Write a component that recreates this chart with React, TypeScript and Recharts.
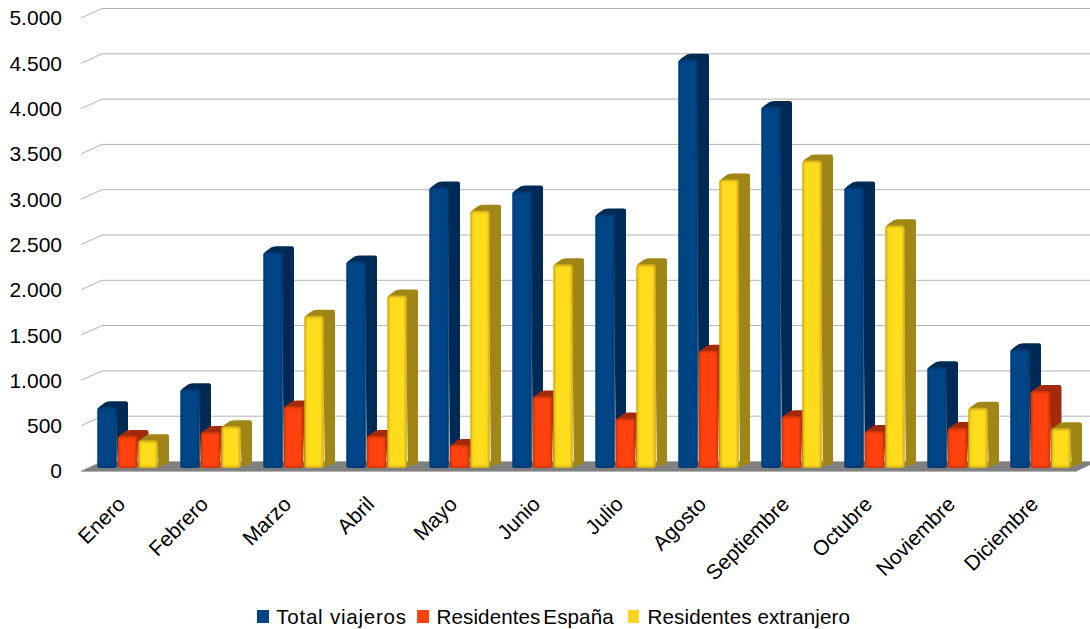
import { BarChart, Bar, XAxis, YAxis, CartesianGrid, Legend } from 'recharts'

const MESES = ['Enero', 'Febrero', 'Marzo', 'Abril', 'Mayo', 'Junio', 'Julio', 'Agosto', 'Septiembre', 'Octubre', 'Noviembre', 'Diciembre']
const TOTAL = [670, 870, 2380, 2280, 3096, 3052, 2798, 4507, 3985, 3096, 1111, 1310]
const ESPANA = [353, 397, 680, 353, 254, 790, 545, 1295, 570, 408, 441, 849]
const EXTRANJERO = [305, 460, 1680, 1905, 2840, 2248, 2248, 3185, 3395, 2678, 664, 440]
const Y_TICKS = [0, 500, 1000, 1500, 2000, 2500, 3000, 3500, 4000, 4500, 5000]

const data = MESES.map((mes, i) => ({ mes, total: TOTAL[i], espana: ESPANA[i], extranjero: EXTRANJERO[i] }))

const FONT = '"Liberation Sans", Arial, sans-serif'
const BACK_X = 21
const BACK_Y = 9.5

const fmtMiles = (v: number) => v.toLocaleString('es-ES', { useGrouping: 'always' } as any).replace(',', '.')

function GridLine({ x1, x2, y1 }: any) {
  const pts = `${x1},${y1} ${x1 + BACK_X},${y1 - BACK_Y} ${x2 + BACK_X},${y1 - BACK_Y}`
  return (
    <g>
      {y1 > 460 ? (
        <polygon points={`${x1},${y1} ${x1 + BACK_X},${y1 - BACK_Y} ${x2 + BACK_X},${y1 - BACK_Y} ${x2},${y1}`} fill="#808080" />
      ) : null}
      <polyline points={pts} fill="none" stroke="#b3b3b3" strokeWidth={1} />
      {y1 > 460 ? <line x1={x1} x2={x2} y1={y1 + 0.5} y2={y1 + 0.5} stroke="#b3b3b3" /> : null}
    </g>
  )
}

function Bar3D({ x, y, width, height, face, side, edge, nudge }: any) {
  const dx = 11.2
  const dy = 6
  const l = x + 5.5 + nudge
  const r = l + width - 0.5
  const t = y - 3
  const b = t + height
  return (
    <g filter="url(#suave)">
      <path
        d={`M${r - 1},${t + 1} L${l + 1},${t + 1} Q${l + 2},${t - 1} ${l + 4},${t - 2} L${l + dx - 3},${t - dy + 1} Q${l + dx},${t - dy} ${l + dx + 2},${t - dy}
          L${r + dx - 2},${t - dy} Q${r + dx},${t - dy} ${r + dx},${t - dy + 2} L${r + dx},${b - dy - 1} Q${r + dx},${b - dy + 1} ${r + dx - 2},${b - dy + 2} L${r + 1},${b - 1} Z`}
        fill={side}
      />
      <rect x={l} y={t} width={r - l} height={b - t} rx={2.5} fill={edge} />
      <rect x={l + 1.6} y={t + 1.6} width={r - l - 3.2} height={b - t - 3.2} rx={1} fill={face} filter="url(#interior)" />
    </g>
  )
}

function MesTick({ x, y, payload }: any) {
  const tx = x + 4
  const ty = y + 26.5
  return (
    <text x={tx} y={ty} transform={`rotate(-45 ${tx} ${ty})`} textAnchor="end" fontFamily={FONT} fontSize={21} fill="#000">
      {payload.value}
    </text>
  )
}

function Leyenda({ payload }: any) {
  const anchos = [160.3, 211, 222]
  const huecos = [7, 7, 8.5]
  const texto = [{ letterSpacing: 0.75 }, { wordSpacing: -3, letterSpacing: 0.1 }, { letterSpacing: 0.1 }]
  return (
    <div style={{ display: 'flex', fontFamily: FONT, fontSize: 20.6, color: '#000', height: 29, alignItems: 'center' }}>
      {(payload || []).map((p: any, i: number) => (
        <div key={p.value} style={{ display: 'flex', alignItems: 'center', width: anchos[i] }}>
          <span style={{ width: 12.5, height: 12.5, background: p.color, marginRight: huecos[i] }} />
          <span style={{ whiteSpace: 'nowrap', ...texto[i] }}>{p.value}</span>
        </div>
      ))}
    </div>
  )
}

export default function App() {
  return (
    <div style={{ position: 'absolute', left: 0, top: 0, width: 1090, height: 629, overflow: 'hidden', background: '#fff' }}>
      <BarChart
        width={1090}
        height={629}
        data={data}
        margin={{ top: 18, right: 13, left: 0, bottom: 8 }}
        barCategoryGap="13%"
        barGap={0}
      >
        <defs>
          <filter id="suave" x="-10%" y="-10%" width="120%" height="120%">
            <feGaussianBlur stdDeviation="0.4" />
          </filter>
          <filter id="interior" x="-20%" y="-20%" width="140%" height="140%">
            <feGaussianBlur stdDeviation="0.8" />
          </filter>
        </defs>
        <CartesianGrid vertical={false} horizontal={(p: any) => <GridLine {...p} key={p.key ?? p.y1} />} />
        <XAxis dataKey="mes" interval={0} height={115} axisLine={false} tickLine={false} tick={<MesTick />} />
        <YAxis
          domain={[0, 5000]}
          ticks={Y_TICKS}
          width={81}
          axisLine={false}
          tickLine={false}
          tickSize={0}
          tickMargin={19}
          tickFormatter={fmtMiles}
          tick={{ fontFamily: FONT, fontSize: 21, fill: '#000' }}
        />
        <Legend verticalAlign="bottom" height={35} itemSorter={null} wrapperStyle={{ left: 256.7, bottom: -8, width: 800 }} content={<Leyenda />} />
        <Bar dataKey="total" name="Total viajeros" fill="#004586" isAnimationActive={false} shape={(p: any) => <Bar3D {...p} nudge={0} face="#004586" side="#002c56" edge="#003a70" />} />
        <Bar dataKey="espana" name="Residentes España" fill="#ff420e" isAnimationActive={false} shape={(p: any) => <Bar3D {...p} nudge={0.5} face="#ff420e" side="#a32a08" edge="#c93408" />} />
        <Bar dataKey="extranjero" name="Residentes extranjero" fill="#ffd320" isAnimationActive={false} shape={(p: any) => <Bar3D {...p} nudge={1} face="#ffdc1e" side="#a08614" edge="#c9a618" />} />
      </BarChart>
    </div>
  )
}
